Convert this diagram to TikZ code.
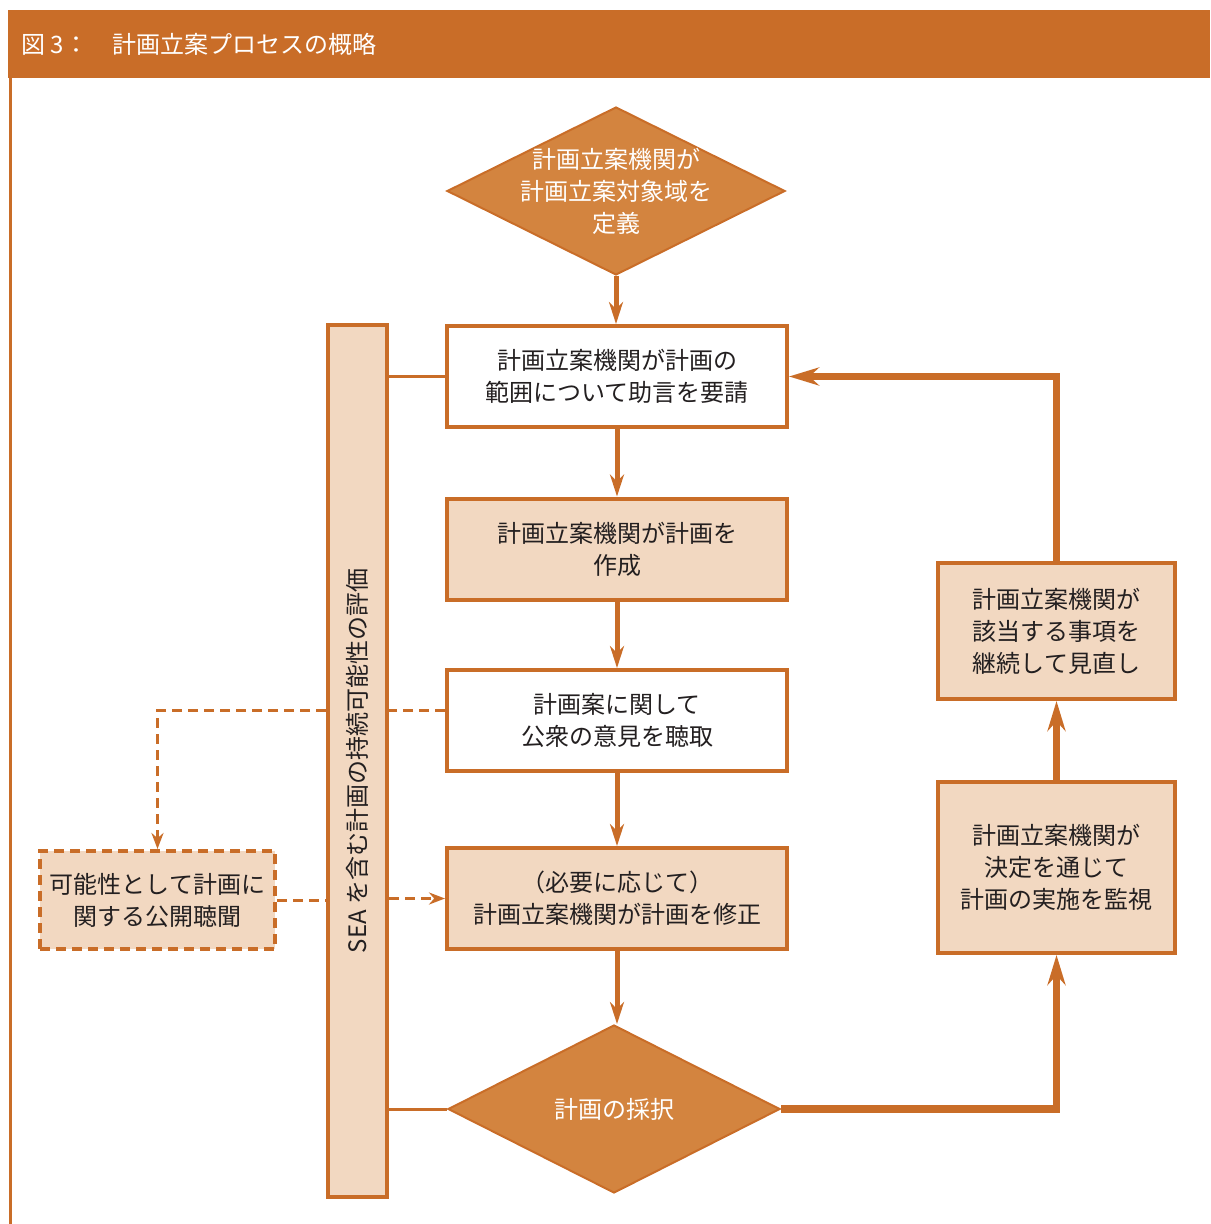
\documentclass[tikz,border=0pt]{standalone}
\usepackage{fontspec}
\setmainfont{Noto Sans CJK JP}
\usetikzlibrary{shapes.geometric,arrows.meta}
\definecolor{o}{HTML}{C96D28}
\definecolor{lo}{HTML}{F2D8C1}
\definecolor{mo}{HTML}{D3843F}
\definecolor{ink}{HTML}{231F20}

\begin{document}
\begin{tikzpicture}[x=0.5pt,y=-0.5pt,
    txt/.style={font=\fontsize{12}{16}\selectfont, text=ink, align=center},
    stepbox/.style={txt, draw=o, line width=2pt, inner sep=0pt, minimum width=170pt, minimum height=50.5pt},
    sidebox/.style={txt, draw=o, fill=lo, line width=2pt, inner sep=0pt, minimum width=118.5pt},
    decision/.style={diamond, draw=o, fill=mo, line width=1pt, inner sep=0pt, minimum width=169pt, minimum height=84pt},
    decisiontext/.style={txt, text=white},
    flow/.style={draw=o, line width=2.5pt, -{Stealth[length=11pt,width=7pt]}},
    bigflow/.style={draw=o, line width=3.6pt, -{Stealth[length=15pt,width=9pt]}},
    link/.style={draw=o, line width=1.5pt},
    dashlink/.style={draw=o, line width=1.5pt, dash pattern=on 5pt off 3pt}]
    \useasboundingbox (0,0) rectangle (1210,1224);

    % Title band and left border
    \fill[o] (8,10) rectangle (1210,78);
    \draw[o, line width=1.5pt] (10,78) -- (10,1224);
    \node[anchor=west, inner sep=0pt, text=white, font=\fontsize{12}{16}\selectfont] (title) at (21,44) {図 3：　計画立案プロセスの概略};

    % Main column
    \node[decision] (define) at (616,191) {};
    \node[decisiontext] at (define) {計画立案機関が\\計画立案対象域を\\定義};
    \node[stepbox] (plan) at (617,376.5) {計画立案機関が計画の\\範囲について助言を要請};
    \node[stepbox, fill=lo] (draft) at (617,549) {計画立案機関が計画を\\作成};
    \node[stepbox] (hear) at (617,720.5) {計画案に関して\\公衆の意見を聴取};
    \node[stepbox, fill=lo] (revise) at (617,898.5) {（必要に応じて）\\計画立案機関が計画を修正};
    \node[decision, minimum width=166pt] (adopt) at (614,1109) {};
    \node[decisiontext] at (adopt) {計画の採択};

    % SEA bar
    \node[txt, draw=o, fill=lo, line width=2pt, inner sep=0pt, minimum width=436pt, minimum height=29.5pt, rotate=90] (sea) at (357.5,761) {SEA を含む計画の持続可能性の評価};

    % Optional public hearing
    \node[sidebox, dashed, dash pattern=on 5pt off 3pt, minimum width=117.5pt, minimum height=49pt] (hearing) at (157.5,900) {可能性として計画に\\関する公開聴聞};

    % Right column
    \node[sidebox, minimum height=68pt] (review) at (1056.5,631) {計画立案機関が\\該当する事項を\\継続して見直し};
    \node[sidebox, minimum height=85.5pt] (monitor) at (1056.5,867.5) {計画立案機関が\\決定を通じて\\計画の実施を監視};

    % Main flow
    \draw[flow] (define.south) -- (define.south |- plan.north);
    \draw[flow] (plan) -- (draft);
    \draw[flow] (draft) -- (hear);
    \draw[flow] (hear) -- (revise);
    \draw[flow] (revise.south) -- (revise.south |- adopt.north);

    % Feedback loop
    \draw[bigflow] (adopt.east) -| (monitor.south);
    \draw[bigflow] (monitor) -- (review);
    \draw[bigflow] (review.north) |- (plan.east);

    % Links to the SEA bar
    \draw[link] (plan.west -| sea.south) -- (plan.west);
    \draw[link] (adopt.west -| sea.south) -- (adopt.west);
    \coordinate (hearlink) at ([yshift=5pt]hear.west);
    \draw[dashlink] (hearlink) -- (hearlink -| sea.south);
    \draw[dashlink, -{Stealth[length=8pt,width=6pt]}] (hearlink -| sea.north) -| (hearing.north);
    \draw[dashlink] (hearing.east) -- (hearing.east -| sea.north);
    \draw[dashlink, -{Stealth[length=8pt,width=6pt]}] (revise.west -| sea.south) -- (revise.west);
\end{tikzpicture}
\end{document}
